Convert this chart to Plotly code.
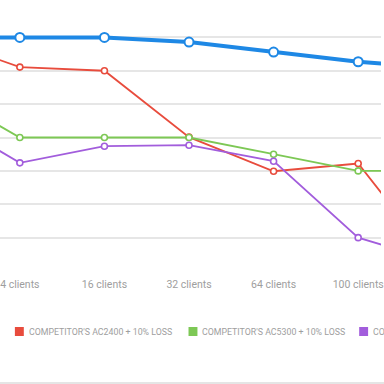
import plotly.graph_objects as go

categories = ["1 client", "4 clients", "16 clients", "32 clients", "64 clients", "100 clients", "128 clients"]
blue_vals = [700, 700, 700, 686, 656, 627, 608]
red_vals = [700, 611, 600, 401, 299, 322, 0]
green_vals = [545, 400, 400, 400, 350, 300, 300]
purple_vals = [474, 324, 374, 377, 329, 100, 24]

series = [
    ("OURS + 10% LOSS", blue_vals, "#1e88e5", 4, 9, 2),
    ("COMPETITOR'S AC2400 + 10% LOSS", red_vals, "#e84c3d", 1.8, 6, 1.6),
    ("COMPETITOR'S AC5300 + 10% LOSS", green_vals, "#7dc855", 1.8, 6, 1.6),
    ("COMPETITOR'S AC3150 + 10% LOSS", purple_vals, "#a25ddc", 1.8, 6, 1.6),
]

fig = go.Figure()
for name, vals, color, lw, ms, mlw in series:
    fig.add_trace(go.Scatter(
        x=categories, y=vals, mode="lines+markers", name=name,
        line=dict(color=color, width=lw),
        marker=dict(size=ms, color="white", line=dict(color=color, width=mlw)),
        cliponaxis=True,
    ))

fig.update_layout(
    width=384, height=384,
    margin=dict(l=0, r=0, t=4, b=113),
    paper_bgcolor="white", plot_bgcolor="white",
    showlegend=False,
    font=dict(family="Roboto", color="#9e9e9e"),
    xaxis=dict(
        type="category", range=[0.7654, 5.2697], showgrid=False,
        showline=False, zeroline=False, ticks="",
        tickfont=dict(size=10.5, color="#9e9e9e"),
        ticklabelstandoff=5,
    ),
    yaxis=dict(
        range=[0, 800], dtick=100, showgrid=True, gridcolor="#e6e6e6",
        gridwidth=1.5, zeroline=False, showticklabels=False, showline=False,
    ),
)

# manual legend (partially outside the visible area)
legend_items = [
    ("OURS + 10% LOSS", "#1e88e5", -120),
    ("COMPETITOR'S AC2400 + 10% LOSS", "#e84c3d", 15),
    ("COMPETITOR'S AC5300 + 10% LOSS", "#7dc855", 190),
    ("COMPETITOR'S AC3150 + 10% LOSS", "#a25ddc", 362),
]
plot_h = 267.0
def py(ypix):
    return (271 - ypix) / plot_h

for text, color, xpix in legend_items:
    fig.add_shape(type="rect", xref="paper", yref="paper",
                  x0=xpix / 384, x1=(xpix + 9) / 384, y0=py(336), y1=py(327),
                  fillcolor=color, line=dict(width=0))
    fig.add_annotation(xref="paper", yref="paper", x=(xpix + 12) / 384, y=py(331.5),
                       text=text, showarrow=False, xanchor="left", yanchor="middle",
                       font=dict(size=8.8, color="#9e9e9e", family="Roboto"))

fig.add_shape(type="line", xref="paper", yref="paper", x0=-0.1, x1=1.1,
              y0=py(383), y1=py(383), line=dict(color="#dcdcdc", width=1.5))

fig.write_html("out.html", config={"displayModeBar": False},
               post_script="document.body.style.margin='0';document.body.style.overflow='hidden';")
